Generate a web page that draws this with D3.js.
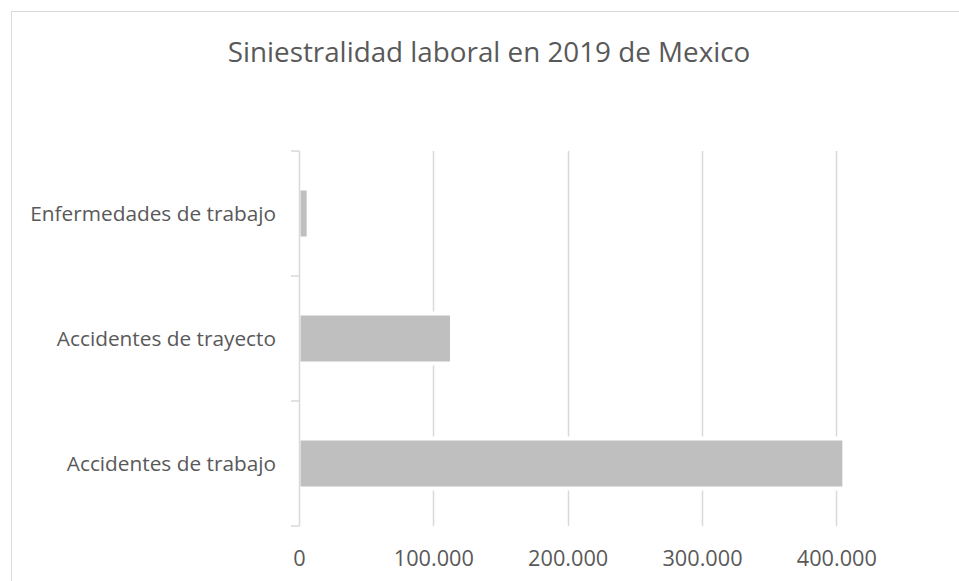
<!DOCTYPE html>
<html>
<head>
<meta charset="utf-8">
<script src="https://cdn.jsdelivr.net/npm/d3@7"></script>
<style>
  body { margin: 0; background: #fff; }
  text { font-family: "Open Sans", sans-serif; fill: #595959; }
</style>
</head>
<body>
<div id="wrapper"></div>
<script>
// data (top row first)
var categories = ["Enfermedades de trabajo", "Accidentes de trayecto", "Accidentes de trabajo"];
var values = [5700, 112400, 404500];
var xTicks = [0, 100000, 200000, 300000, 400000];
var title = "Siniestralidad laboral en 2019 de Mexico";

function draw(){
    const parent = d3.select("#wrapper")
    parent.selectAll('*').remove()

    var width = 959;
    var height = 581;
    var svg = parent.append("svg")
        .attr("width", width)
        .attr("height", height)

    // chart frame
    svg.append("rect")
        .attr("x", 11.5)
        .attr("y", 11.5)
        .attr("width", width)
        .attr("height", height)
        .attr("fill", "#fff")
        .attr("stroke", "#d9d9d9")
        .attr("stroke-width", 1)

    var plotTop = 151, plotBottom = 526;

    var xScaler = d3.scaleLinear()
        .domain([0, 400000])
        .range([299, 836.3]);
    var yScaler = d3.scaleBand()
        .domain(categories)
        .range([plotTop, plotBottom])
        .paddingInner(0.632)
        .paddingOuter(0.316)

    // vertical gridlines
    svg.append("g")
        .selectAll("line")
        .data(xTicks.filter(d => d > 0))
        .join("line")
        .attr("x1", d => Math.round(xScaler(d)) + 0.5)
        .attr("x2", d => Math.round(xScaler(d)) + 0.5)
        .attr("y1", plotTop)
        .attr("y2", plotBottom)
        .attr("stroke", "#d9d9d9")
        .attr("stroke-width", 1.5)

    // x tick labels
    var fmt = d3.formatLocale({decimal: ",", thousands: ".", grouping: [3], currency: ["", ""]}).format(",d")
    var xAxis = d3.axisBottom(xScaler)
        .tickValues(xTicks)
        .tickFormat(fmt)
        .tickSize(0)
        .tickPadding(0)
    var gx = svg.append("g")
        .attr("transform", "translate(0," + plotBottom + ")")
        .call(xAxis)
    gx.select(".domain").remove()
    gx.selectAll("text")
        .attr("dy", null)
        .attr("y", 40)
        .style("font-size", "21.7px")
        .style("font-family", "'Open Sans', sans-serif")
        .attr("fill", "#595959")

    // white halo behind bars (hides gridlines just above/below)
    svg.append("g")
        .selectAll("rect")
        .data(categories)
        .join("rect")
        .attr("x", xScaler(0) + 1)
        .attr("y", d => yScaler(d) - 4)
        .attr("width", (d, i) => xScaler(values[i]) - xScaler(0))
        .attr("height", yScaler.bandwidth() + 8)
        .attr("fill", "#fff")

    svg.append("g")
        .selectAll("rect")
        .data(categories)
        .join("rect")
        .attr("x", xScaler(0) + 1.5)
        .attr("y", d => yScaler(d))
        .attr("width", (d, i) => xScaler(values[i]) - xScaler(0) - 1.5)
        .attr("height", yScaler.bandwidth())
        .attr("fill", "#bfbfbf")

    // category axis: line plus ticks at the band boundaries
    var step = yScaler.step()
    var bounds = d3.range(categories.length + 1).map(i => plotTop + i * step)
    var gy = svg.append("g")
    gy.append("line")
        .attr("x1", 299.5).attr("x2", 299.5)
        .attr("y1", plotTop).attr("y2", plotBottom)
        .attr("stroke", "#d9d9d9")
        .attr("stroke-width", 1.5)
    gy.selectAll(".tk")
        .data(bounds)
        .join("line")
        .attr("class", "tk")
        .attr("x1", 291).attr("x2", 299.5)
        .attr("y1", d => d).attr("y2", d => d)
        .attr("stroke", "#d9d9d9")
        .attr("stroke-width", 1.5)
    gy.selectAll("text")
        .data(categories)
        .join("text")
        .attr("x", 276)
        .attr("y", d => yScaler(d) + yScaler.bandwidth() / 2)
        .attr("dy", "0.36em")
        .attr("text-anchor", "end")
        .style("font-size", "20.8px")
        .text(d => d)

    svg.append('text')
        .attr("x", 489)
        .attr("y", 62)
        .attr("text-anchor", "middle")
        .style("font-size", "27.8px")
        .text(title)
}
draw()
</script>
</body>
</html>
